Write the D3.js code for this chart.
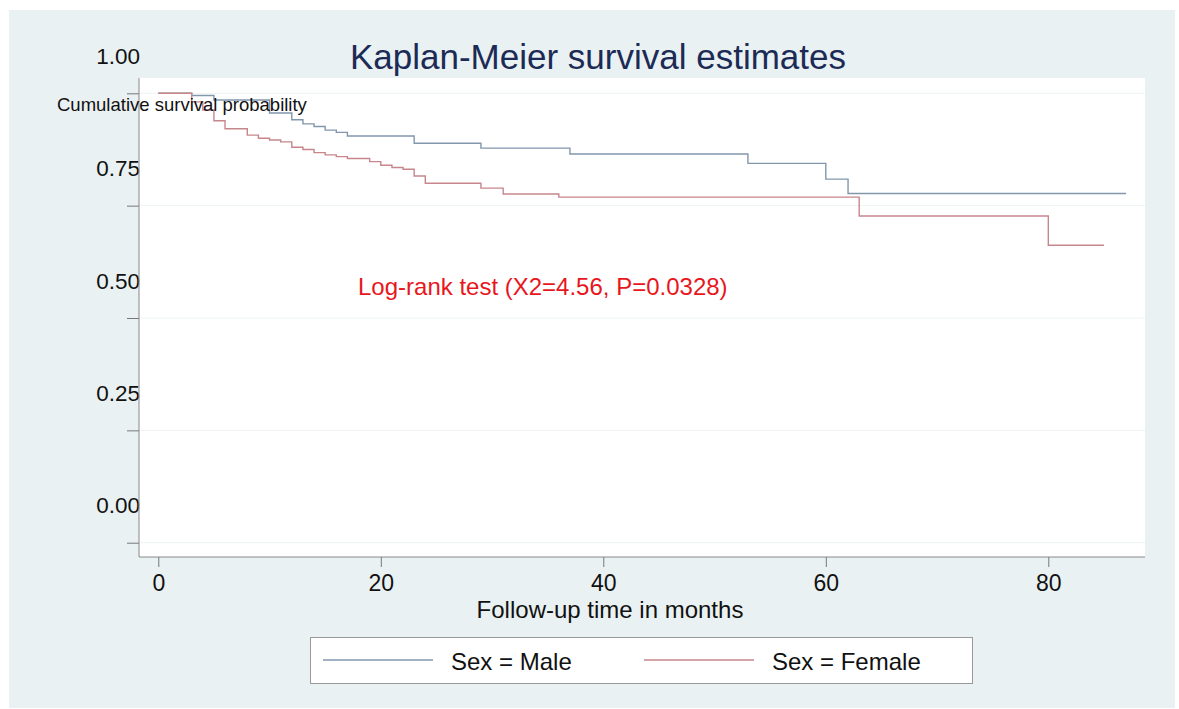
<!DOCTYPE html>
<html>
<head>
<meta charset="utf-8">
<script src="https://cdn.jsdelivr.net/npm/d3@7"></script>
<style>
	body { margin: 0; background: #fff; }
	text { font-family: "Liberation Sans", Arial, sans-serif; }
</style>
</head>
<body>
<svg></svg>
<script>
// Kaplan-Meier step values (time in months, survival)
const maleTime = [0, 3, 5, 10, 12, 13, 14, 15, 16, 17, 23, 29, 37, 53, 60, 62, 87];
const maleSurv = [1, 0.995, 0.985, 0.956, 0.941, 0.932, 0.926, 0.918, 0.913, 0.905, 0.889, 0.878, 0.865, 0.844, 0.809, 0.777, 0.777];

const femaleTime = [0, 3, 4, 5, 6, 8, 9, 10, 11, 12, 13, 14, 15, 16, 17, 19, 20, 21, 22, 23, 24, 29, 31, 36, 63, 80, 85];
const femaleSurv = [1, 0.981, 0.963, 0.939, 0.921, 0.907, 0.900, 0.896, 0.892, 0.880, 0.875, 0.868, 0.863, 0.859, 0.855, 0.848, 0.840, 0.835, 0.831, 0.816, 0.800, 0.789, 0.776, 0.769, 0.727, 0.662, 0.662];

const xTicks = [0, 20, 40, 60, 80];
const yTicks = [0, 0.25, 0.5, 0.75, 1];
const seriesNames = ['Sex = Male', 'Sex = Female'];

const width = 1179;
const height = 709;

const svg = d3.select('svg')
	.attr('width', width)
	.attr('height', height);

// plot region
const plot = {left: 139, right: 1145, top: 78, bottom: 557};

const x = d3.scaleLinear().domain([0, 80]).range([158.3, 1048.3]);
const y = d3.scaleLinear().domain([0, 1]).range([542.7, 93.3]);

// graph background
svg.append('rect')
	.attr('x', 9).attr('y', 10)
	.attr('width', 1166).attr('height', 698)
	.attr('fill', '#eaf1f3');

svg.append('rect')
	.attr('x', plot.left).attr('y', plot.top)
	.attr('width', plot.right - plot.left).attr('height', plot.bottom - plot.top)
	.attr('fill', '#fff');

// gridlines
svg.append('g')
	.selectAll('line')
	.data(yTicks)
	.enter().append('line')
		.attr('x1', plot.left)
		.attr('x2', plot.right)
		.attr('y1', d => y(d))
		.attr('y2', d => y(d))
		.attr('stroke', '#eef3f4')
		.attr('stroke-width', 1);

// y axis
const yAxis = svg.append('g')
	.attr('transform', `translate(${plot.left},0)`)
	.call(d3.axisLeft(y).tickValues(yTicks).tickFormat(d3.format('.2f')).tickSize(12));
yAxis.select('.domain').remove();
yAxis.selectAll('line').attr('stroke', '#777');
yAxis.selectAll('text')
	.attr('x', 1)
	.attr('y', -30)
	.attr('dy', 0)
	.attr('font-size', 22.5)
	.attr('fill', '#111')
	.style('font-family', '"Liberation Sans", Arial, sans-serif');

// x axis
const xAxis = svg.append('g')
	.attr('transform', `translate(0,${plot.bottom})`)
	.call(d3.axisBottom(x).tickValues(xTicks).tickSize(10).tickPadding(8));
xAxis.select('.domain').remove();
xAxis.selectAll('line').attr('stroke', '#777');
xAxis.selectAll('text')
	.attr('font-size', 23)
	.attr('fill', '#111')
	.style('font-family', '"Liberation Sans", Arial, sans-serif');

svg.append('line')
	.attr('x1', plot.left).attr('x2', plot.left)
	.attr('y1', plot.top).attr('y2', plot.bottom)
	.attr('stroke', '#888');
svg.append('line')
	.attr('x1', plot.left).attr('x2', plot.right)
	.attr('y1', plot.bottom).attr('y2', plot.bottom)
	.attr('stroke', '#888');

// survival curves
const stepLine = d3.line()
	.x(d => x(d[0]))
	.y(d => y(d[1]))
	.curve(d3.curveStepAfter);

const series = [
	{name: seriesNames[0], pts: d3.zip(maleTime, maleSurv), color: '#8197ac'},
	{name: seriesNames[1], pts: d3.zip(femaleTime, femaleSurv), color: '#c7868c'}
];

svg.append('g')
	.selectAll('path')
	.data(series)
	.enter().append('path')
		.attr('d', d => stepLine(d.pts))
		.attr('fill', 'none')
		.attr('stroke', d => d.color)
		.attr('stroke-width', 1.4);

// titles and notes
svg.append('text')
	.attr('x', 598).attr('y', 69)
	.attr('text-anchor', 'middle')
	.attr('font-size', 35)
	.attr('fill', '#1c2b55')
	.text('Kaplan-Meier survival estimates');

svg.append('text')
	.attr('x', 57).attr('y', 111)
	.attr('font-size', 18.5)
	.attr('fill', '#111')
	.text('Cumulative survival probability');

svg.append('text')
	.attr('x', 358).attr('y', 295)
	.attr('font-size', 24)
	.attr('fill', '#e8161d')
	.text('Log-rank test (X2=4.56, P=0.0328)');

svg.append('text')
	.attr('x', 610).attr('y', 618)
	.attr('text-anchor', 'middle')
	.attr('font-size', 24)
	.attr('fill', '#111')
	.text('Follow-up time in months');

// legend
const legend = svg.append('g');
legend.append('rect')
	.attr('x', 310.5).attr('y', 637.5)
	.attr('width', 662).attr('height', 46)
	.attr('fill', '#fff')
	.attr('stroke', '#999');

const legendItems = legend.selectAll('g')
	.data(series)
	.enter().append('g')
		.attr('transform', (d, i) => `translate(${i === 0 ? 323 : 644},660)`);
legendItems.append('line')
	.attr('x1', 0).attr('x2', 110)
	.attr('stroke', d => d.color)
	.attr('stroke-width', 1.4);
legendItems.append('text')
	.attr('x', 128).attr('y', 10)
	.attr('font-size', 24)
	.attr('fill', '#111')
	.text(d => d.name);
</script>
</body>
</html>
